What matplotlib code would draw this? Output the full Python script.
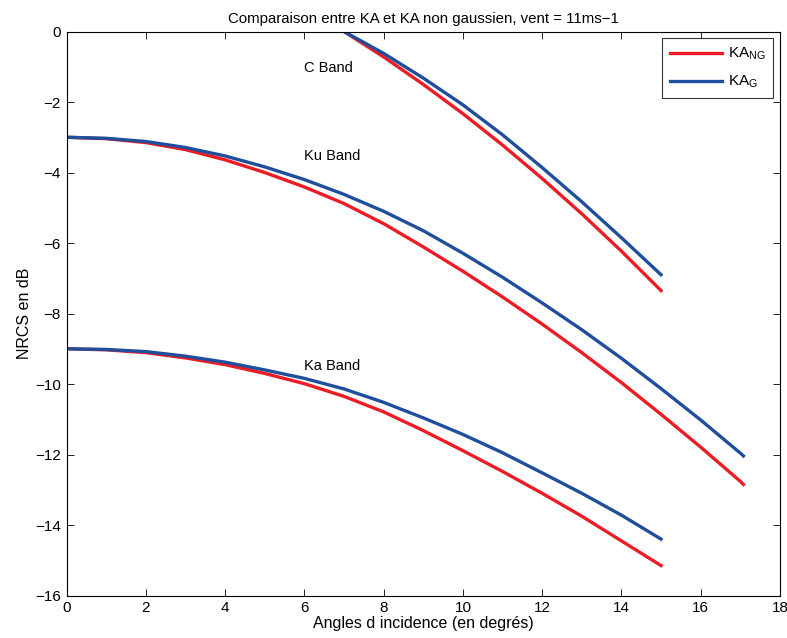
import matplotlib
matplotlib.use("Agg")
import matplotlib.pyplot as plt

plt.rcParams["font.family"] = ["Liberation Sans", "DejaVu Sans"]
plt.rcParams["mathtext.fontset"] = "custom"
plt.rcParams["mathtext.rm"] = "Liberation Sans"
plt.rcParams["mathtext.it"] = "Liberation Sans"

RED = "#ec1c24"
BLUE = "#1f4e9c"

# C band
c_x = [7, 8, 9, 10, 11, 12, 13, 14, 15]
c_ng = [0.0, -0.72, -1.50, -2.33, -3.22, -4.17, -5.17, -6.23, -7.35]
c_g = [0.0, -0.62, -1.32, -2.08, -2.93, -3.86, -4.83, -5.85, -6.90]

# Ku band
ku_x = [0, 1, 2, 3, 4, 5, 6, 7, 8, 9, 10, 11, 12, 13, 14, 15, 16, 17, 17.08]
ku_ng = [-3.00, -3.04, -3.15, -3.35, -3.64, -4.00, -4.41, -4.88, -5.45, -6.11,
         -6.80, -7.53, -8.30, -9.11, -9.96, -10.86, -11.79, -12.76, -12.85]
ku_g = [-3.00, -3.03, -3.12, -3.29, -3.53, -3.84, -4.20, -4.62, -5.10, -5.65,
        -6.29, -6.97, -7.70, -8.46, -9.27, -10.13, -11.02, -11.96, -12.04]

# Ka band
ka_x = [0, 1, 2, 3, 4, 5, 6, 7, 8, 9, 10, 11, 12, 13, 14, 15]
ka_ng = [-9.00, -9.03, -9.11, -9.26, -9.45, -9.70, -9.99, -10.35, -10.79, -11.32,
         -11.89, -12.48, -13.10, -13.75, -14.45, -15.15]
ka_g = [-9.00, -9.02, -9.08, -9.21, -9.38, -9.60, -9.84, -10.14, -10.52, -10.96,
        -11.43, -11.95, -12.52, -13.10, -13.72, -14.40]

band_labels = ["C Band", "Ku Band", "Ka Band"]
band_label_pos = [(6.0, -1.03), (6.0, -3.53), (6.0, -9.50)]

fig = plt.figure(figsize=(7.87, 6.38), dpi=100)
ax = fig.add_axes([0.0846, 0.0666, 0.9064, 0.884])

lw = 2.4
ax.plot(c_x, c_ng, color=RED, linewidth=lw, label=r"KA$_{\mathrm{NG}}$")
ax.plot(c_x, c_g, color=BLUE, linewidth=lw, label=r"KA$_{\mathrm{G}}$")
ax.plot(ku_x, ku_ng, color=RED, linewidth=lw)
ax.plot(ku_x, ku_g, color=BLUE, linewidth=lw)
ax.plot(ka_x, ka_ng, color=RED, linewidth=lw)
ax.plot(ka_x, ka_g, color=BLUE, linewidth=lw)

for text, (tx, ty) in zip(band_labels, band_label_pos):
    ax.text(tx, ty, text, fontsize=10.5, ha="left", va="center")

ax.set_xlim(0, 18)
ax.set_ylim(-16, 0)
ax.set_xticks(range(0, 19, 2))
ax.set_yticks(range(-16, 1, 2))
ax.tick_params(direction="in", top=True, right=True, labelsize=11, length=5, width=0.6, pad=4)
for spine in ax.spines.values():
    spine.set_linewidth(0.8)

ax.set_title("Comparaison entre KA et KA non gaussien, vent = 11ms\u22121", fontsize=10.8, pad=6)
ax.set_xlabel("Angles d incidence (en degrés)", fontsize=11.5, labelpad=1)
ax.set_ylabel("NRCS en dB", fontsize=11.5, labelpad=2)

leg = ax.legend(loc="upper right", fontsize=11, frameon=True, fancybox=False,
                edgecolor="black", handlelength=3.4, borderaxespad=0.45,
                labelspacing=0.75, handletextpad=0.4, borderpad=0.5)
leg.get_frame().set_linewidth(0.8)

fig.savefig("out.png", dpi=100)
